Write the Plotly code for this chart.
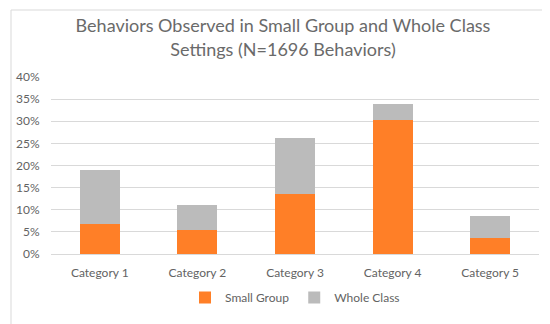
import plotly.graph_objects as go

categories = ["Category 1", "Category 2", "Category 3", "Category 4", "Category 5"]
small_group = [0.068, 0.055, 0.136, 0.303, 0.037]
whole_class = [0.122, 0.056, 0.127, 0.036, 0.049]
y_ticks = [0, 0.05, 0.10, 0.15, 0.20, 0.25, 0.30, 0.35, 0.40]

FONT = "Lato"
GRAY = "#636363"

fig = go.Figure()
fig.add_trace(go.Bar(x=categories, y=small_group, name="Small Group",
                     marker=dict(color="#ff7f27", line=dict(width=0))))
fig.add_trace(go.Bar(x=categories, y=whole_class, name="Whole Class",
                     marker=dict(color="#bbbbbb", line=dict(width=0))))

W, H = 550, 324
ml, mr, mt, mb = 43, 19, 69, 78
pw, ph = W - ml - mr, H - mt - mb

def px_x(x):
    return (x - ml) / pw

def px_y(y):
    return (H - mb - y) / ph

fig.update_layout(
    width=W, height=H,
    margin=dict(l=ml, r=mr, t=mt, b=mb, pad=0, autoexpand=False),
    barmode="stack",
    bargap=0.59,
    paper_bgcolor="white",
    plot_bgcolor="white",
    font=dict(family=FONT, color=GRAY, size=12),
    title=dict(text="Behaviors Observed in Small Group and Whole Class<br>Settings (N=1696 Behaviors)",
               x=0.5, xanchor="center", y=0.925, yanchor="middle",
               font=dict(family=FONT, size=18, color="#6a6a6a")),
    xaxis=dict(showgrid=False, showline=False, ticks="outside", ticklen=8,
               tickcolor="rgba(0,0,0,0)", automargin=False,
               tickfont=dict(size=12, color=GRAY)),
    yaxis=dict(range=[0, 0.4], tickvals=y_ticks, tickformat=".0%",
               showgrid=True, gridcolor="#d9d9d9", gridwidth=1,
               zeroline=True, zerolinecolor="#d9d9d9", zerolinewidth=1,
               showline=False, ticks="outside", ticklen=8,
               tickcolor="rgba(0,0,0,0)", automargin=False,
               tickfont=dict(size=12, color=GRAY)),
    legend=dict(orientation="h", x=0.5, xanchor="center", y=px_y(275), yanchor="top",
                font=dict(size=12, color=GRAY), traceorder="normal"),
    shapes=[dict(type="rect", xref="paper", yref="paper",
                 x0=px_x(3), x1=px_x(546), y0=px_y(318), y1=px_y(2),
                 line=dict(color="#d9d9d9", width=1), fillcolor="rgba(0,0,0,0)",
                 layer="below")],
)

fig.write_html("out.html")
